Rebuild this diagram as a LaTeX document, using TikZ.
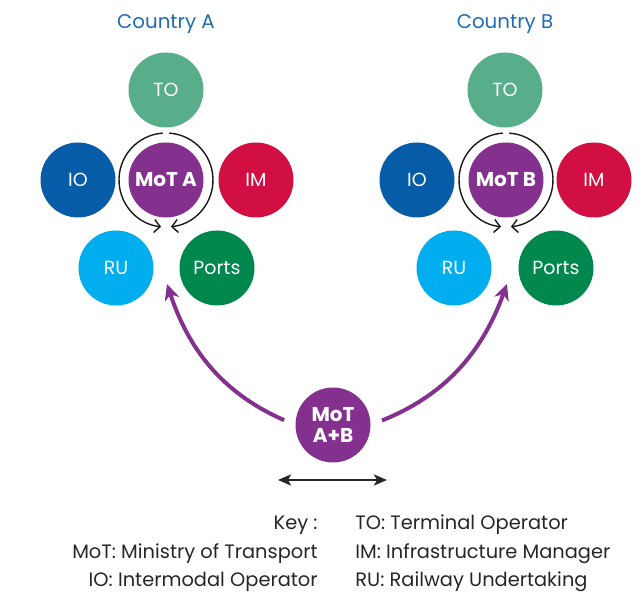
\documentclass[tikz,border=0pt]{standalone}
\usepackage{fontspec}
\setmainfont{Poppins}
\usepackage{tikz}
\usetikzlibrary{arrows}
\usetikzlibrary{arrows.meta}
\usetikzlibrary{calc}

\definecolor{toGreen}{HTML}{58AD8A}
\definecolor{ioBlue}{HTML}{075CA8}
\definecolor{motPurple}{HTML}{84308F}
\definecolor{imRed}{HTML}{D20F43}
\definecolor{ruBlue}{HTML}{00AEEF}
\definecolor{portGreen}{HTML}{00874E}
\definecolor{countryBlue}{HTML}{1F6DB4}

\begin{document}
\begin{tikzpicture}[
    x=0.5pt, y=0.5pt,
    actor/.style={circle, minimum size=37.5pt, inner sep=0pt, text=white, font=\fontsize{9.5}{11}\selectfont},
    ministry/.style={actor, fill=motPurple, font=\fontsize{10}{10.5}\bfseries\selectfont, align=center},
    country/.style={text=countryBlue, font=\fontsize{9.9}{11}\selectfont},
    ring/.style={-{Straight Barb[length=3pt,width=6.5pt]}, line width=0.7pt, black!90},
    link arrow/.style={-{Stealth[length=8pt,width=7.5pt,inset=2.5pt]}, line width=2pt, motPurple, shorten <=6pt},
    key text/.style={font=\fontsize{9.7}{11}\selectfont, text=black!85, inner sep=0pt}
    ]
    \useasboundingbox (0,0) rectangle (639,-592);

    % country A
    \node[country] (labelA) at (166,-24) {Country A};
    \node[actor, fill=toGreen]   (toA)    at (166,-90)  {TO};
    \node[actor, fill=ioBlue]    (ioA)    at (78,-180)  {IO};
    \node[ministry]              (motA)   at (166,-180) {MoT A};
    \node[actor, fill=imRed]     (imA)    at (256,-180) {IM};
    \node[actor, fill=ruBlue]    (ruA)    at (116,-268) {RU};
    \node[actor, fill=portGreen] (portsA) at (217,-268) {Ports};
    % country B
    \node[country] (labelB) at (505,-24) {Country B};
    \node[actor, fill=toGreen]   (toB)    at (505,-90)  {TO};
    \node[actor, fill=ioBlue]    (ioB)    at (417,-180) {IO};
    \node[ministry]              (motB)   at (506,-180) {MoT B};
    \node[actor, fill=imRed]     (imB)    at (594,-180) {IM};
    \node[actor, fill=ruBlue]    (ruB)    at (454,-268) {RU};
    \node[actor, fill=portGreen] (portsB) at (556,-268) {Ports};

    % rings round the ministries
    \draw[ring] ($(motA.center)+(94:47)$) arc (94:264:47);
    \draw[ring] ($(motA.center)+(86:47)$) arc (86:-84:47);
    \draw[ring] ($(motB.center)+(94:47)$) arc (94:264:47);
    \draw[ring] ($(motB.center)+(86:47)$) arc (86:-84:47);

    % joint ministry
    \node[ministry] (motAB) at (333,-425) {MoT\\A+B};
    \coordinate (tipA) at (167,-284);
    \coordinate (tipB) at (507,-284);
    \draw[link arrow] (motAB.west) to[bend left=24] (tipA);
    \draw[link arrow] (motAB.east) to[bend right=24] (tipB);

    % exchange arrow
    \coordinate (exL) at (278,-480);
    \coordinate (exR) at (387,-480);
    \draw[{Stealth[length=6.5pt,width=5.5pt,inset=1.5pt]}-{Stealth[length=6.5pt,width=5.5pt,inset=1.5pt]}, line width=1.3pt, black!85] (exL) -- (exR);

    % key
    \node[key text, anchor=east] (keyHead) at (318,-525) {Key :};
    \node[key text, anchor=east] (keyMoT)  at (318,-554) {MoT: Ministry of Transport};
    \node[key text, anchor=east] (keyIO)   at (318,-582) {IO: Intermodal Operator};
    \node[key text, anchor=west] (keyTO)   at (355,-525) {TO: Terminal Operator};
    \node[key text, anchor=west] (keyIM)   at (355,-554) {IM: Infrastructure Manager};
    \node[key text, anchor=west] (keyRU)   at (355,-582) {RU: Railway Undertaking};
\end{tikzpicture}
\end{document}
